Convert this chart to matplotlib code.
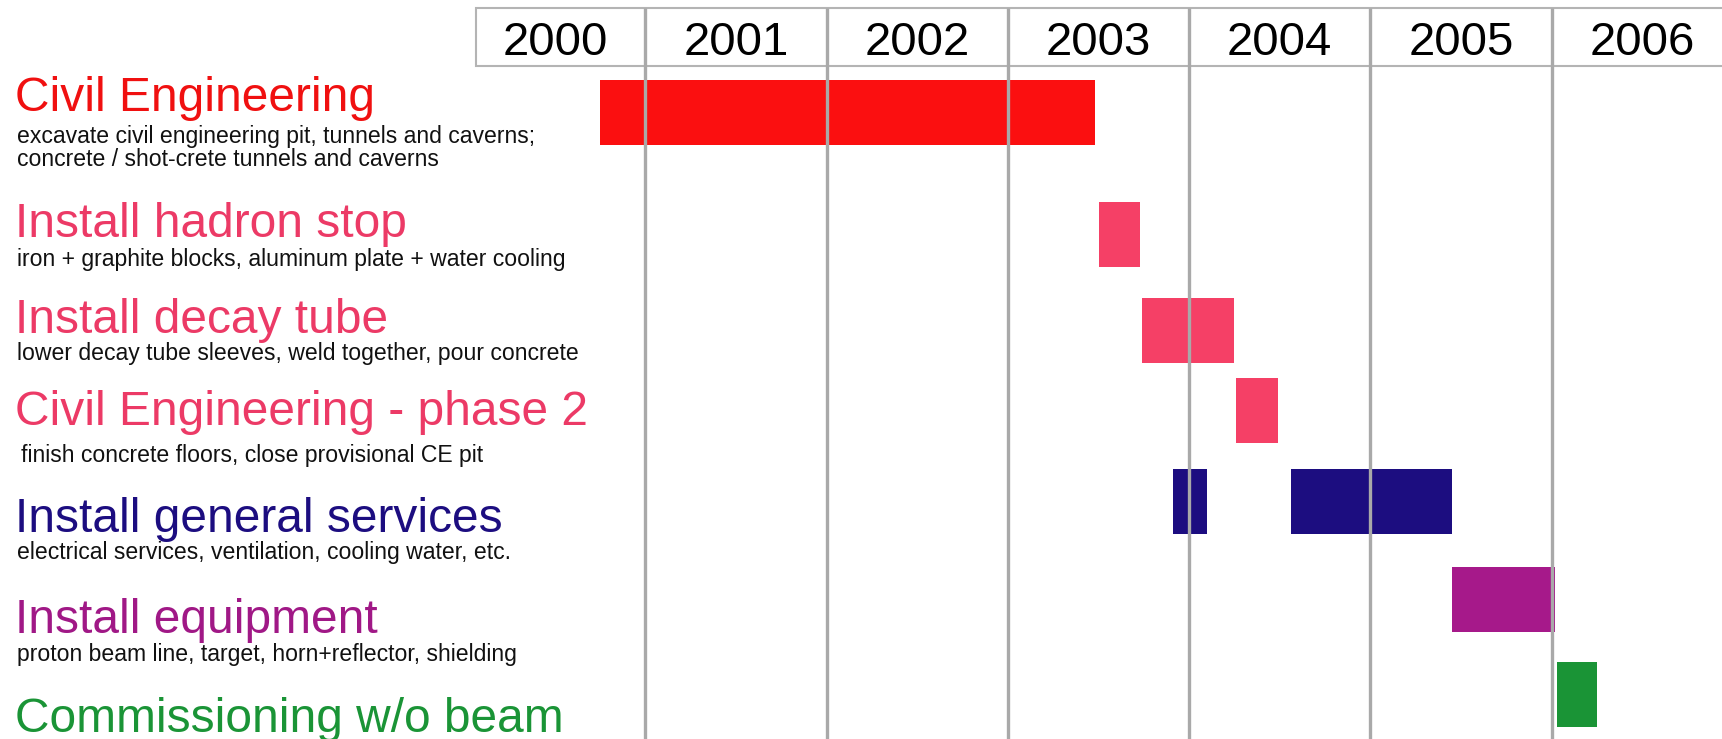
#!/usr/bin/env python3
"""Beam-line construction schedule 2000-2006 as a Gantt-style chart."""
import matplotlib.pyplot as plt
from matplotlib.patches import Rectangle

# --------------------------------------------------------------------------- #
# Schedule data (fractional years)
# --------------------------------------------------------------------------- #
years = [2000, 2001, 2002, 2003, 2004, 2005, 2006]

tasks = [
    "Civil Engineering",
    "Install hadron stop",
    "Install decay tube",
    "Civil Engineering - phase 2",
    "Install general services",
    "Install equipment",
    "Commissioning w/o beam",
]
notes = [
    "excavate civil engineering pit, tunnels and caverns;\n"
    "concrete / shot-crete tunnels and caverns",
    "iron + graphite blocks, aluminum plate + water cooling",
    "lower decay tube sleeves, weld together, pour concrete",
    "finish concrete floors, close provisional CE pit",
    "electrical services, ventilation, cooling water, etc.",
    "proton beam line, target, horn+reflector, shielding",
    "",
]
# one list per task; general services is split into two work periods
seg_start = [[2000.75], [2003.50], [2003.74], [2004.26],
             [2003.91, 2004.56], [2005.45], [2006.03]]
seg_end = [[2003.48], [2003.73], [2004.25], [2004.49],
           [2004.10, 2005.45], [2006.02], [2006.25]]

# --------------------------------------------------------------------------- #
# Styling / layout
# --------------------------------------------------------------------------- #
W, H, DPI = 1722, 739, 100
PX_PER_YEAR = 181.2          # horizontal scale of the time axis
X_2001 = 645.5               # pixel column of the 2001 boundary

BAR_COLORS = ["#fb0f10", "#f54066", "#f54066", "#f54066",
              "#1c0d80", "#a6198a", "#1a9436"]
TITLE_COLORS = ["#f01010", "#ec3a66", "#ec3a66", "#ec3a66",
                "#1c0d80", "#a01886", "#1a9436"]
GRID = "#a9a9a9"
BORDER = "#b4b4b4"

ROW_Y = [112, 234.5, 330.5, 410.5, 501.5, 599, 694]      # bar centres (px from top)
BAR_H = 65
TITLE_BASE = [111, 237, 333, 425, 532, 633, 732]         # title baselines
NOTE_BASE = [143, 266, 360, 462, 559, 661, None]         # first note baseline
NOTE_X = [17, 17, 17, 21, 17, 17, 17]

HEAD_TOP, HEAD_BOT, HEAD_LEFT = 8, 66, 476

plt.rcParams["font.family"] = ["Liberation Sans", "DejaVu Sans"]

fig = plt.figure(figsize=(W / DPI, H / DPI), dpi=DPI)

# pixel-space overlay for the text column and the header frame
lab = fig.add_axes([0, 0, 1, 1])
lab.set_xlim(0, W)
lab.set_ylim(H, 0)
lab.axis("off")

# time axis in years, rows in pixels from the top
ax = fig.add_axes([0, 0, 1, 1])
ax.set_xlim(2001 - X_2001 / PX_PER_YEAR, 2001 + (W - X_2001) / PX_PER_YEAR)
ax.set_ylim(H, 0)
ax.axis("off")
ax.patch.set_alpha(0)

# header strip with the year labels
lab.add_patch(Rectangle((HEAD_LEFT, HEAD_TOP), W, HEAD_BOT - HEAD_TOP,
                        facecolor="white", edgecolor=BORDER, lw=1.5, zorder=1))
for y in years:
    ax.text(y + 0.5, 55, str(y), ha="center", va="baseline",
            fontsize=34, color="black", zorder=5)

# bars
for i, (s_list, e_list) in enumerate(zip(seg_start, seg_end)):
    for s, e in zip(s_list, e_list):
        ax.barh(ROW_Y[i], e - s, left=s, height=BAR_H,
                color=BAR_COLORS[i], lw=0, zorder=2)

# year boundaries drawn over the bars
ax.vlines(years[1:], HEAD_TOP, H, colors=GRID, lw=2.4, zorder=3)

# task titles and descriptions
for i, name in enumerate(tasks):
    lab.text(15, TITLE_BASE[i], name, ha="left", va="baseline",
             fontsize=34.5, color=TITLE_COLORS[i])
    if notes[i]:
        for k, line in enumerate(notes[i].split("\n")):
            lab.text(NOTE_X[i], NOTE_BASE[i] + 23 * k, line, ha="left",
                     va="baseline", fontsize=16.6, color="#111111")

fig.savefig("out.png", dpi=DPI)
